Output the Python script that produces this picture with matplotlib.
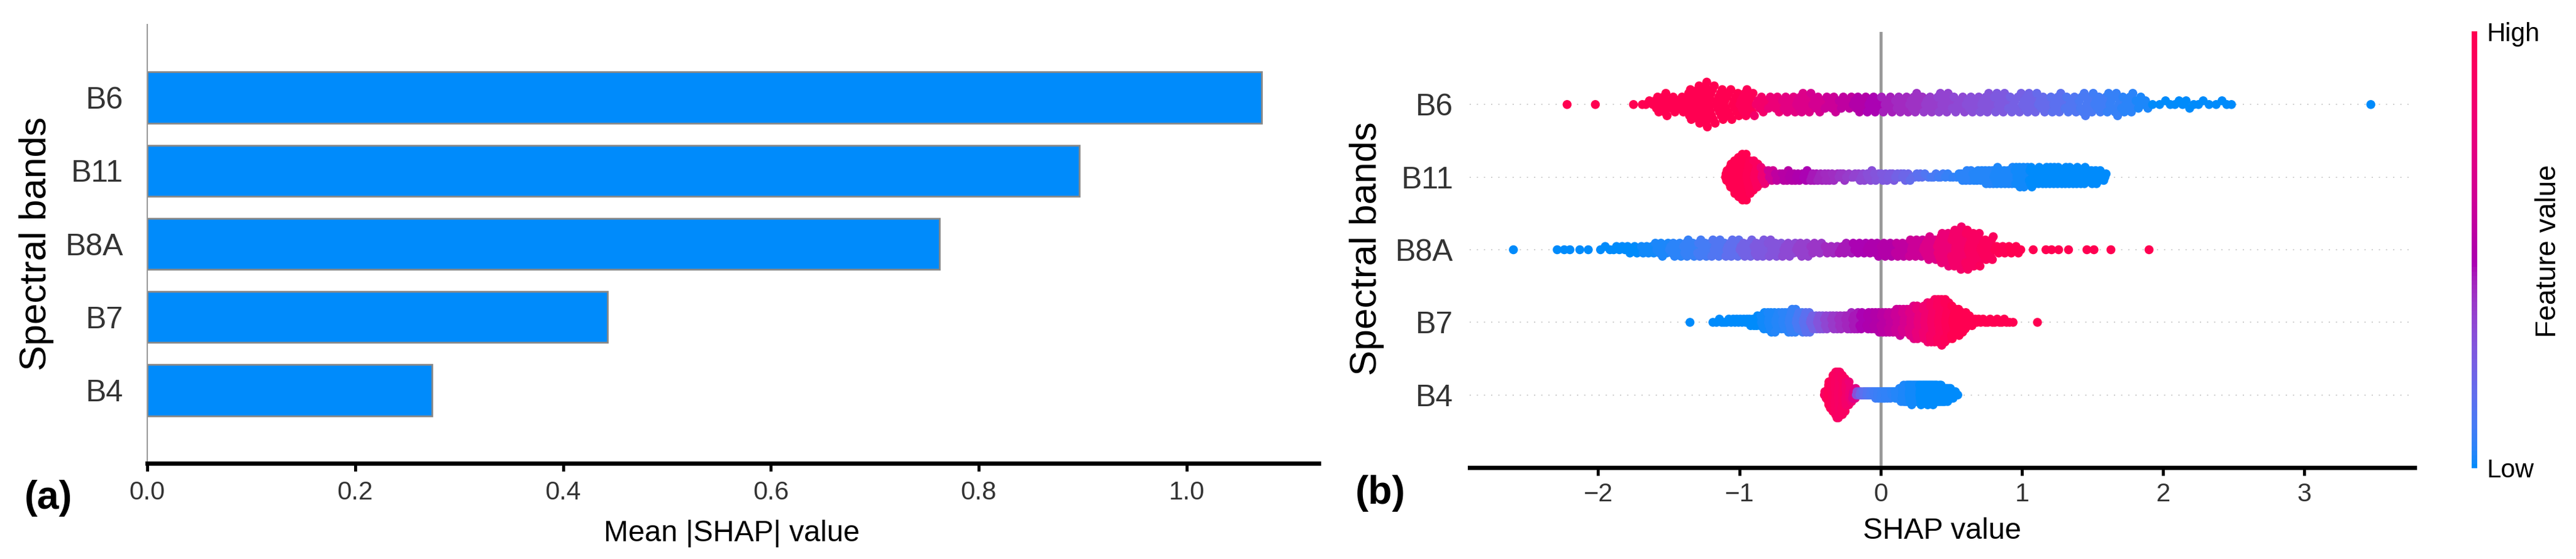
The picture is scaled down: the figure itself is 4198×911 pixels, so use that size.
import numpy as np
import matplotlib
matplotlib.use('Agg')
import matplotlib.pyplot as plt
from matplotlib.colors import ListedColormap
from matplotlib.cm import ScalarMappable

plt.rcParams['font.family'] = ['Liberation Sans', 'DejaVu Sans']

W, H = 4198, 911

# ---------------- data ----------------
bands = ['B6', 'B11', 'B8A', 'B7', 'B4']
mean_abs_shap = [1.072, 0.897, 0.762, 0.443, 0.274]

# beeswarm: number of samples per SHAP-value bin
# (bins start at *_start, width *_step) and the feature value of the bin (0 low .. 1 high)
b6_start, b6_step = -1.8, 0.1
b6_counts = [1, 4, 12, 8, 16, 24, 16, 14, 14,
             8, 8, 9, 11, 8, 8, 7, 9, 9,
             8, 9, 10, 9, 11, 8, 9, 10, 11, 9,
             11, 9, 10, 9, 11, 10, 11, 10, 6,
             2, 3, 4, 3, 2, 3]
b6_feat = [1, 1, 1, 1, 1, 1, 1, 1, 0.95,
           0.85, 0.78, 0.72, 0.68, 0.64, 0.6, 0.55, 0.5, 0.46,
           0.43, 0.41, 0.39, 0.36, 0.34, 0.32, 0.3, 0.28, 0.26, 0.23,
           0.21, 0.18, 0.15, 0.12, 0.1, 0.08, 0.06, 0.04, 0.02,
           0, 0, 0, 0, 0, 0]
b6_extra = [-2.22, -2.02, 3.47]
b6_extra_feat = [1, 1, 0]

b11_start, b11_step = -1.10, 0.05
b11_counts = [14, 24, 28, 20, 14, 9, 6,
              5, 6, 6, 5, 6, 6, 5, 6, 4, 5,
              3, 4, 5, 6, 5, 5, 5, 4, 5, 3,
              4, 2, 3, 3, 3, 2,
              6, 7, 7, 8, 10, 10, 9, 11, 13, 12,
              11, 10, 11, 11, 10, 11, 10, 10, 9, 8, 6]
b11_feat = [1, 1, 1, 0.97, 0.92, 0.8, 0.62,
            0.55, 0.52, 0.5, 0.48, 0.46, 0.44, 0.42, 0.41, 0.4, 0.38,
            0.36, 0.34, 0.32, 0.3, 0.28, 0.26, 0.25, 0.22, 0.2, 0.17,
            0.15, 0.12, 0.1, 0.08, 0.06, 0.05,
            0.04, 0.04, 0.03, 0.03, 0.03, 0.02, 0.02, 0.02, 0.01, 0.01,
            0, 0, 0, 0, 0, 0, 0, 0, 0, 0, 0]
b11_extra = []
b11_extra_feat = []

b8a_start, b8a_step = -2.0, 0.1
b8a_counts = [3, 5, 6, 8, 10, 11, 12, 13, 12, 13,
              12, 13, 12, 10, 11, 8, 7, 8, 9, 10,
              11, 12, 14, 16, 24, 30, 26, 16, 7, 6]
b8a_feat = [0, 0, 0, 0.01, 0.02, 0.04, 0.06, 0.09, 0.12, 0.16,
            0.22, 0.26, 0.29, 0.32, 0.35, 0.38, 0.41, 0.44, 0.46, 0.48,
            0.5, 0.55, 0.6, 0.68, 0.78, 0.85, 0.9, 0.93, 0.97, 1.0]
b8a_extra = [-2.60, -2.29, -2.24, -2.20, -2.13, -2.07,
             1.08, 1.17, 1.21, 1.26, 1.33, 1.46, 1.51, 1.63, 1.90]
b8a_extra_feat = [0, 0, 0, 0, 0, 0, 1, 1, 1, 1, 1, 1, 1, 1, 1]

b7_start, b7_step = -1.20, 0.05
b7_counts = [2, 3, 3, 4, 4, 6, 8, 12, 14, 12,
             14, 16, 13, 14, 10, 11, 9, 10, 9, 11,
             12, 10, 12, 13, 15, 14, 18, 16, 22, 20,
             26, 28, 30, 24, 18, 14, 8, 4, 3, 3,
             3, 3, 2]
b7_feat = [0, 0, 0, 0, 0, 0, 0, 0.01, 0.02, 0.03,
           0.04, 0.06, 0.1, 0.15, 0.22, 0.28, 0.33, 0.37, 0.4, 0.42,
           0.44, 0.46, 0.48, 0.5, 0.53, 0.56, 0.6, 0.65, 0.7, 0.76,
           0.82, 0.88, 0.92, 0.95, 1, 1, 1, 1, 1, 1,
           1, 1, 1]
b7_extra = [-1.35, 1.11]
b7_extra_feat = [0, 1]

b4_start, b4_step = -0.40, 0.025
b4_counts = [8, 22, 30, 40, 36, 28, 20, 12, 8, 5,
             4, 5, 6, 5, 6, 7, 8, 7, 6, 6,
             8, 11, 14, 16, 17, 16, 16, 17, 16, 17,
             16, 16, 15, 14, 12, 10, 7, 3]
b4_feat = [0.9, 0.95, 0.93, 0.9, 0.88, 0.9, 0.85, 0.8, 0.7, 0.3,
           0.2, 0.15, 0.12, 0.1, 0.08, 0.07, 0.06, 0.05, 0.05, 0.04,
           0.03, 0.03, 0.02, 0.02, 0.01, 0.01, 0.01, 0, 0, 0,
           0, 0, 0, 0, 0, 0, 0, 0]
b4_extra = []
b4_extra_feat = []

swarm_rows = [
    (b6_start, b6_step, b6_counts, b6_feat, b6_extra, b6_extra_feat),
    (b11_start, b11_step, b11_counts, b11_feat, b11_extra, b11_extra_feat),
    (b8a_start, b8a_step, b8a_counts, b8a_feat, b8a_extra, b8a_extra_feat),
    (b7_start, b7_step, b7_counts, b7_feat, b7_extra, b7_extra_feat),
    (b4_start, b4_step, b4_counts, b4_feat, b4_extra, b4_extra_feat),
]


# ---------------- shap style red/blue colormap (Lch interpolation) ----------------
M = np.array([[0.4124, 0.3576, 0.1805],
              [0.2126, 0.7152, 0.0722],
              [0.0193, 0.1192, 0.9505]])
WHITE = np.array([0.95047, 1.0, 1.08883])


def rgb2lab(rgb):
    c = np.where(rgb <= 0.04045, rgb / 12.92, ((rgb + 0.055) / 1.055) ** 2.4)
    xyz = M @ c / WHITE
    f = np.where(xyz > (6 / 29) ** 3, np.cbrt(xyz), xyz / (3 * (6 / 29) ** 2) + 4 / 29)
    return np.array([116 * f[1] - 16, 500 * (f[0] - f[1]), 200 * (f[1] - f[2])])


def lab2rgb(lab):
    fy = (lab[0] + 16) / 116
    f = np.array([fy + lab[1] / 500, fy, fy - lab[2] / 200])
    xyz = np.where(f > 6 / 29, f ** 3, 3 * (6 / 29) ** 2 * (f - 4 / 29)) * WHITE
    c = np.clip(np.linalg.inv(M) @ xyz, 0, 1)
    return np.clip(np.where(c <= 0.0031308, 12.92 * c, 1.055 * c ** (1 / 2.4) - 0.055), 0, 1)


def shap_red_blue():
    blue = rgb2lab(np.array([0.0, 0.54337757, 0.98337906]))
    red = rgb2lab(np.array([1.0, 0.0, 0.31796406]))
    bl = [blue[0], np.hypot(blue[1], blue[2]), np.arctan2(blue[2], blue[1])]
    rl = [red[0], np.hypot(red[1], red[2]), np.arctan2(red[2], red[1])]
    n = 100
    ls = np.r_[np.linspace(bl[0], 40.0, n // 2), np.linspace(40.0, rl[0], n // 2)]
    cs = np.r_[np.linspace(bl[1], 90.0, n // 2), np.linspace(90.0, rl[1], n // 2)]
    hs = np.linspace(bl[2], rl[2], n)
    cols = [lab2rgb(np.array([l, c * np.cos(h), c * np.sin(h)])) for l, c, h in zip(ls, cs, hs)]
    return ListedColormap(cols)


cmap = shap_red_blue()


def expand(start, step, counts, feat, extra, extra_feat):
    xs, fs = [], []
    for k, (n, f) in enumerate(zip(counts, feat)):
        lo = start + k * step
        for i in range(n):
            xs.append(lo + (i + 0.5) * step / n)
            fs.append(f)
    xs += list(extra)
    fs += list(extra_feat)
    return np.array(xs), np.array(fs)


def swarm_offsets(x, nbins=100, row_height=0.4):
    # same stacking rule as shap's summary (beeswarm) plot
    q = np.round(nbins * (x - x.min()) / (x.max() - x.min() + 1e-8))
    order = np.lexsort((x, q))
    ys = np.zeros(len(x))
    layer, last = 0, None
    for i in order:
        if q[i] != last:
            layer = 0
        ys[i] = np.ceil(layer / 2) * ((layer % 2) * 2 - 1)
        layer += 1
        last = q[i]
    ys *= 0.9 * (row_height / np.max(ys + 1))
    return ys


def fx(px):
    return px / W


def fy(py):
    return 1 - py / H


PT = 72 / 100  # points per pixel at dpi 100

fig = plt.figure(figsize=(W / 100, H / 100), dpi=100, facecolor='white')

ypos = np.arange(len(bands))[::-1]

# ---------------- (a) bar plot ----------------
ax_a = fig.add_axes([fx(240), fy(755), (2149 - 240) / W, (755 - 40) / H])
ax_a.barh(ypos, mean_abs_shap, height=0.7, color='#008bfb', edgecolor='#888888', linewidth=2)
ax_a.set_xlim(0, 1.127)
ax_a.set_ylim(-1, 5)
ax_a.set_yticks(ypos)
ax_a.set_yticklabels(bands)
ax_a.set_xticks(np.arange(0, 1.01, 0.2))
ax_a.set_xticklabels(['%.1f' % t for t in np.arange(0, 1.01, 0.2)])
for s in ['top', 'right']:
    ax_a.spines[s].set_visible(False)
ax_a.spines['left'].set_color('#999999')
ax_a.spines['left'].set_linewidth(1.5)
ax_a.spines['bottom'].set_linewidth(5)
ax_a.tick_params(axis='x', length=9.5, width=3.5, labelsize=42 * PT, labelcolor='#333333', pad=11)
ax_a.tick_params(axis='y', length=0, labelsize=50 * PT, labelcolor='#333333', pad=28)

fig.text(fx(60), fy(397), 'Spectral bands', rotation=90, ha='center', va='center', fontsize=62 * PT)
fig.text(fx(1192), fy(869), 'Mean |SHAP| value', ha='center', va='center', fontsize=48 * PT)
fig.text(fx(79), fy(812), '(a)', ha='center', va='center', fontsize=64 * PT, fontweight='bold')

# ---------------- (b) beeswarm ----------------
ax_b = fig.add_axes([fx(2395), fy(762), (3935 - 2395) / W, (762 - 52) / H])
ax_b.axvline(0, color='#999999', lw=3.5, zorder=1)
for pos, row in zip(ypos, swarm_rows):
    ax_b.axhline(pos, color='#cccccc', lw=1.4, dashes=(1, 5), zorder=0)
    xs, fs = expand(*row)
    ys = swarm_offsets(xs)
    ax_b.scatter(xs, pos + ys, c=fs, cmap=cmap, vmin=0, vmax=1, s=110,
                 linewidths=0, zorder=3)
ax_b.set_xlim(-2.91, 3.78)
ax_b.set_ylim(-1, 5)
ax_b.set_yticks(ypos)
ax_b.set_yticklabels(bands)
ax_b.set_xticks([-2, -1, 0, 1, 2, 3])
for s in ['top', 'right', 'left']:
    ax_b.spines[s].set_visible(False)
ax_b.spines['bottom'].set_linewidth(5)
ax_b.tick_params(axis='x', length=9.5, width=3.5, labelsize=42 * PT, labelcolor='#333333', pad=8)
ax_b.tick_params(axis='y', length=0, labelsize=50 * PT, labelcolor='#333333', pad=19)

fig.text(fx(2228), fy(405), 'Spectral bands', rotation=90, ha='center', va='center', fontsize=62 * PT)
fig.text(fx(3165), fy(866), 'SHAP value', ha='center', va='center', fontsize=48 * PT)
fig.text(fx(2250), fy(804), '(b)', ha='center', va='center', fontsize=64 * PT, fontweight='bold')

# colour bar
cax = fig.add_axes([fx(4028), fy(763), 9 / W, (763 - 51) / H])
sm = ScalarMappable(cmap=cmap, norm=plt.Normalize(0, 1))
cb = fig.colorbar(sm, cax=cax, ticks=[])
cb.outline.set_visible(False)
fig.text(fx(4053), fy(56), 'High', ha='left', va='center', fontsize=42 * PT)
fig.text(fx(4053), fy(767), 'Low', ha='left', va='center', fontsize=42 * PT)
fig.text(fx(4153), fy(409), 'Feature value', rotation=90, ha='center', va='center', fontsize=46 * PT)

fig.savefig('out.png', dpi=100, facecolor='white')
